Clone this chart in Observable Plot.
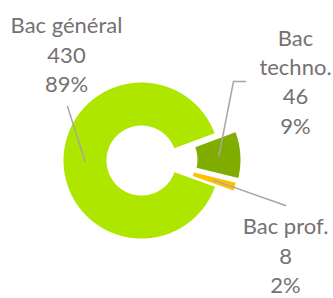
<!DOCTYPE html>
<html><head><meta charset="utf-8">
<script src="https://cdn.jsdelivr.net/npm/d3@7"></script>
<script src="https://cdn.jsdelivr.net/npm/@observablehq/plot@0.6"></script>
<style>html,body{margin:0;padding:0;background:#fff;overflow:hidden}</style>
</head><body><div id="chart"></div>
<script>
// ---- data ----
const categories = ["Bac général", "Bac techno.", "Bac prof."];
const counts = [430, 46, 8];
const percentLabels = ["89%", "9%", "2%"];

// ---- styles / layout ----
const colors = ["#aee600", "#80ad00", "#ffc000"];
const W = 333, H = 298;
const cx = 147, cy = 160, rOuter = 78, rInner = 35;
const startDeg = 109.6;
const explode = [6, 15, 13];
const labelPos = [[66, 91.5], [295, 133], [285, 292.5]];
const wrapName = [false, true, false];
const leaderEnds = [[[67, 106]], [[233, 81], [245, 81]], [[285, 205]]];

const pie = d3.pie().sort(null)
  .startAngle(startDeg * Math.PI / 180)
  .endAngle(startDeg * Math.PI / 180 + 2 * Math.PI);
const arcs = pie(counts);
const pt = (ox, oy, r, a) => ({x: ox + r * Math.sin(a), y: oy - r * Math.cos(a)});

const slices = arcs.map((a, i) => {
  const mid = (a.startAngle + a.endAngle) / 2;
  const ox = cx + explode[i] * Math.sin(mid), oy = cy - explode[i] * Math.cos(mid);
  const span = a.endAngle - a.startAngle;
  const n = Math.max(6, Math.ceil(span / (Math.PI / 360)));
  const pts = [];
  for (let k = 0; k <= n; k++) pts.push(pt(ox, oy, rOuter, a.startAngle + span * k / n));
  for (let k = n; k >= 0; k--) pts.push(pt(ox, oy, rInner, a.startAngle + span * k / n));
  const leader = [pt(ox, oy, (rOuter + rInner) / 2, mid), ...leaderEnds[i].map(([x, y]) => ({x, y}))];
  return {pts, leader};
});

const labels = categories.map((c, i) => ({
  x: labelPos[i][0], y: labelPos[i][1],
  text: (wrapName[i] ? c.replace(" ", "\n") : c) + "\n" + counts[i] + "\n" + percentLabels[i]
}));

const marks = [];
slices.forEach((s, i) => {
  marks.push(Plot.line(s.pts, {x: "x", y: "y", fill: colors[i], stroke: "none", curve: "linear"}));
});
slices.forEach((s) => {
  marks.push(Plot.line(s.leader, {x: "x", y: "y", stroke: "#a6a6a6", strokeWidth: 1.5, curve: "linear"}));
});
marks.push(Plot.text(labels, {
  x: "x", y: "y", text: "text", lineAnchor: "bottom", lineHeight: 1.33,
  fontSize: 22, fill: "#757171", fontFamily: "Lato"
}));

const chart = Plot.plot({
  width: W, height: H,
  margin: 0,
  x: {domain: [0, W], range: [0, W], axis: null},
  y: {domain: [0, H], range: [0, H], axis: null},
  style: {background: "#fff", overflow: "visible"},
  marks
});
document.getElementById("chart").append(chart);
</script>
</body></html>
